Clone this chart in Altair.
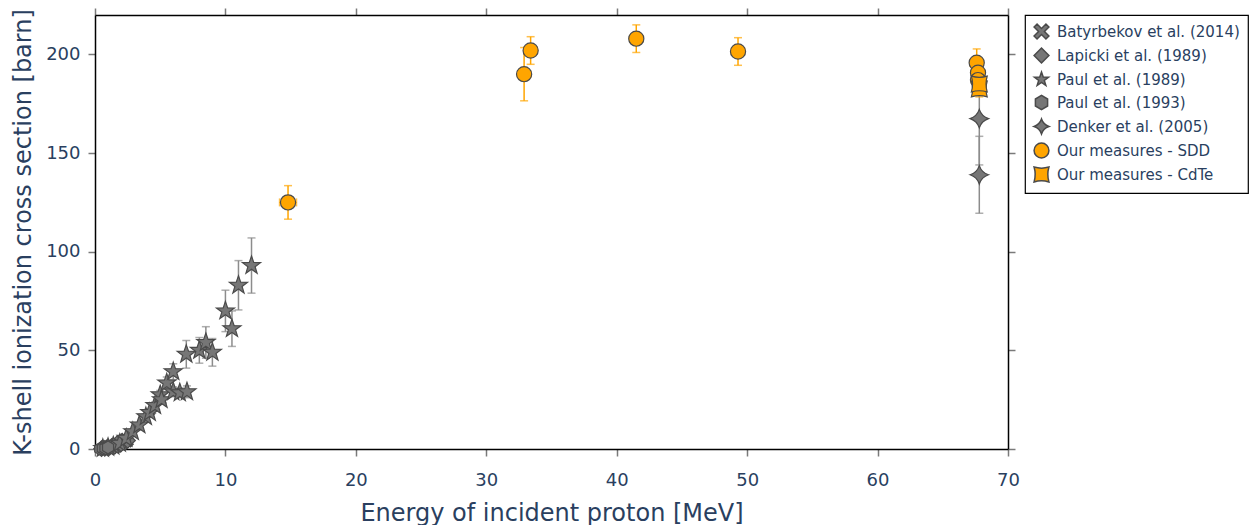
import math
import altair as alt
import pandas as pd

SERIES = [
    "Batyrbekov et al. (2014)",
    "Lapicki et al. (1989)",
    "Paul et al. (1989)",
    "Paul et al. (1993)",
    "Denker et al. (2005)",
    "Our measures - SDD",
    "Our measures - CdTe",
]

# Batyrbekov et al. (2014)
bat_x = [0.8, 1.2, 1.6, 2.0, 2.4]
bat_y = [0.4, 1.0, 1.8, 3.0, 4.5]
bat_e = [0.1, 0.1, 0.2, 0.3, 0.4]

# Lapicki et al. (1989)
lap_x = [0.5, 0.75, 1.0, 1.5, 2.0, 2.5]
lap_y = [0.15, 0.35, 0.6, 1.4, 2.6, 4.3]
lap_e = [0.0, 0.0, 0.1, 0.1, 0.2, 0.3]

# Paul et al. (1989)
p89_x = [0.6, 1.0, 1.4, 1.9, 2.4, 2.9, 3.4, 3.9, 4.2, 4.6, 5.0, 5.1, 5.5, 6.0, 6.0, 6.5, 7.0, 7.05, 8.0, 8.5, 9.0, 10.0, 10.5, 11.0, 12.0]
p89_y = [0.3, 0.8, 1.5, 2.9, 5.4, 8.8, 12.2, 16.4, 18.5, 22.0, 27.5, 25.0, 33.5, 39.2, 29.0, 28.5, 48.0, 29.0, 50.0, 54.0, 49.0, 70.0, 61.0, 83.0, 93.0]
p89_e = [0.0, 0.1, 0.1, 0.2, 0.4, 0.7, 1.0, 1.3, 1.5, 1.8, 2.2, 2.0, 3.0, 4.0, 2.5, 2.5, 7.0, 3.0, 6.5, 8.0, 7.0, 10.5, 9.0, 12.5, 14.0]

# Paul et al. (1993)
p93_x = [0.4, 0.6, 0.8, 1.0]
p93_y = [0.1, 0.3, 0.45, 0.8]
p93_e = [0.0, 0.0, 0.0, 0.1]

# Denker et al. (2005)
den_x = [67.8, 67.8]
den_y = [167.5, 139.0]
den_e = [23.5, 19.5]

# Our measures - SDD
sdd_x = [14.8, 32.9, 33.4, 41.5, 49.3, 67.6, 67.7, 67.7]
sdd_y = [125.0, 190.0, 202.0, 208.0, 201.5, 195.8, 190.7, 187.0]
sdd_e = [8.5, 13.5, 7.0, 7.0, 7.0, 7.0, 7.0, 7.0]
sdd_xe = [0.65, 0.5, 0.5, 0.5, 0.5, 0.5, 0.5, 0.5]

# Our measures - CdTe
cdt_x = [67.8, 67.8]
cdt_y = [182.5, 185.0]
cdt_e = [4.0, 5.0]
cdt_xe = [0.5, 0.5]

rows = []
def add(name, xs, ys, es, xes=None):
    for i, (x, y, e) in enumerate(zip(xs, ys, es)):
        xe = xes[i] if xes else 0.0
        rows.append({"series": name, "x": x, "y": y, "ylo": y - e, "yhi": y + e,
                     "xlo": x - xe, "xhi": x + xe, "ye": e, "xe": xe})

add(SERIES[0], bat_x, bat_y, bat_e)
add(SERIES[1], lap_x, lap_y, lap_e)
add(SERIES[2], p89_x, p89_y, p89_e)
add(SERIES[3], p93_x, p93_y, p93_e)
add(SERIES[4], den_x, den_y, den_e)
add(SERIES[5], sdd_x, sdd_y, sdd_e, sdd_xe)
add(SERIES[6], cdt_x, cdt_y, cdt_e, cdt_xe)
df = pd.DataFrame(rows)

gray_names = SERIES[:5]
orange_names = SERIES[5:]

# --- marker shapes (unit square paths) ---
def star_path(n=5, inner=0.4):
    pts = []
    for k in range(2 * n):
        r = 1.0 if k % 2 == 0 else inner
        a = math.radians(-90 + k * 180.0 / n)
        pts.append(f"{r*math.cos(a):.4f},{r*math.sin(a):.4f}")
    return "M" + " L".join(pts) + " Z"

def hex_path():
    pts = []
    for k in range(6):
        a = math.radians(30 + 60 * k)
        pts.append(f"{0.95*math.cos(a):.4f},{0.95*math.sin(a):.4f}")
    return "M" + " L".join(pts) + " Z"

X_PATH = ("M-1,-0.6 L-0.6,-1 L0,-0.4 L0.6,-1 L1,-0.6 L0.4,0 L1,0.6 L0.6,1 "
          "L0,0.4 L-0.6,1 L-1,0.6 L-0.4,0 Z")
STAR_DIAMOND = "M0,-1 Q0.25,-0.25 1,0 Q0.25,0.25 0,1 Q-0.25,0.25 -1,0 Q-0.25,-0.25 0,-1 Z"
STAR_SQUARE = "M-1,-1 Q0,-0.7 1,-1 Q0.7,0 1,1 Q0,0.7 -1,1 Q-0.7,0 -1,-1 Z"

shapes = [X_PATH, "diamond", star_path(), hex_path(), STAR_DIAMOND, "circle", STAR_SQUARE]
GRAY = "#767676"
ORANGE = "#ffa500"
EDGE = "#4a4a4a"
fills = [GRAY, GRAY, GRAY, GRAY, GRAY, ORANGE, ORANGE]
edges = [EDGE] * 7
sizes = [190, 240, 360, 180, 340, 230, 250]

FONT = "DejaVu Sans"
TXT = "#2a3f5f"

xscale = alt.Scale(domain=[0, 70], nice=False, zero=False)
yscale = alt.Scale(domain=[0, 220], nice=False, zero=False)

x_bottom = alt.Axis(orient="bottom", values=list(range(0, 71, 10)), title="Energy of incident proton [MeV]",
                    labelPadding=15, titlePadding=12, labelFlush=False)
y_left = alt.Axis(orient="left", values=list(range(0, 201, 50)), title="K-shell ionization cross section [barn]",
                  labelPadding=8, titlePadding=10, labelFlush=False)
x_top = alt.Axis(orient="top", values=list(range(0, 71, 10)), labels=False, title=None)
y_right = alt.Axis(orient="right", values=list(range(0, 201, 50)), labels=False, title=None)

fill_scale = alt.Scale(domain=SERIES, range=fills)
shape_scale = alt.Scale(domain=SERIES, range=shapes)
stroke_scale = alt.Scale(domain=SERIES, range=edges)

legend = alt.Legend(title=None, symbolStrokeWidth=1.5)


def errbars(data, color, axes=False):
    xa_t = x_top if axes else None
    ya_r = y_right if axes else None
    d = data[data["ye"] > 0]
    rule = alt.Chart(d).mark_rule(color=color, strokeWidth=1.5).encode(
        x=alt.X("x:Q", scale=xscale, axis=xa_t),
        y=alt.Y("ylo:Q", scale=yscale, axis=ya_r),
        y2="yhi:Q",
    )
    cap_lo = alt.Chart(d).mark_tick(color=color, orient="horizontal", size=8, thickness=1.5).encode(
        x=alt.X("x:Q", scale=xscale, axis=None), y=alt.Y("ylo:Q", scale=yscale, axis=None))
    cap_hi = alt.Chart(d).mark_tick(color=color, orient="horizontal", size=8, thickness=1.5).encode(
        x=alt.X("x:Q", scale=xscale, axis=None), y=alt.Y("yhi:Q", scale=yscale, axis=None))
    layers = [rule, cap_lo, cap_hi]
    dx = data[data["xe"] > 0]
    if len(dx):
        hrule = alt.Chart(dx).mark_rule(color=color, strokeWidth=1.5).encode(
            x=alt.X("xlo:Q", scale=xscale, axis=None), x2="xhi:Q",
            y=alt.Y("y:Q", scale=yscale, axis=None))
        cl = alt.Chart(dx).mark_tick(color=color, orient="vertical", size=8, thickness=1.5).encode(
            x=alt.X("xlo:Q", scale=xscale, axis=None), y=alt.Y("y:Q", scale=yscale, axis=None))
        ch = alt.Chart(dx).mark_tick(color=color, orient="vertical", size=8, thickness=1.5).encode(
            x=alt.X("xhi:Q", scale=xscale, axis=None), y=alt.Y("y:Q", scale=yscale, axis=None))
        layers += [hrule, cl, ch]
    return layers


def points(name, axes=False):
    i = SERIES.index(name)
    d = df[df["series"] == name]
    return alt.Chart(d).mark_point(filled=True, opacity=1, strokeWidth=1.2,
                                   size=sizes[i]).encode(
        x=alt.X("x:Q", scale=xscale, axis=x_bottom if axes else None),
        y=alt.Y("y:Q", scale=yscale, axis=y_left if axes else None),
        fill=alt.Fill("series:N", scale=fill_scale, legend=legend),
        shape=alt.Shape("series:N", scale=shape_scale, legend=legend),
        stroke=alt.Stroke("series:N", scale=stroke_scale, legend=legend),
    )

layers = []
layers += errbars(df[df["series"].isin(gray_names)], "#8c8c8c", axes=True)
for k, n in enumerate(gray_names):
    layers.append(points(n, axes=(k == 0)))
layers += errbars(df[df["series"].isin(orange_names)], ORANGE)
for n in orange_names:
    layers.append(points(n))

chart = alt.layer(*layers).resolve_axis(x="independent", y="independent").properties(
    width=913, height=434,
    autosize=alt.AutoSizeParams(type="none"),
    padding={"left": 87, "top": 7, "right": 241, "bottom": 76},
).configure_axis(
    labelFont=FONT, titleFont=FONT, labelColor=TXT, titleColor=TXT,
    labelFontSize=18, titleFontSize=24, titleFontWeight="normal",
    grid=False, domainColor="black", domainWidth=1.5,
    tickColor="#7a7a7a", tickSize=7, tickWidth=1.5,
).configure_view(stroke=None).configure_legend(
    orient="right", offset=9, direction="vertical",
    strokeColor="black", strokeWidth=1.2, fillColor="white", padding=8,
    labelFont=FONT, labelFontSize=15, labelColor=TXT, labelLimit=400,
    symbolSize=220, rowPadding=3, labelOffset=7,
)

chart.save("out.html", embed_options={"renderer": "svg", "actions": False})
